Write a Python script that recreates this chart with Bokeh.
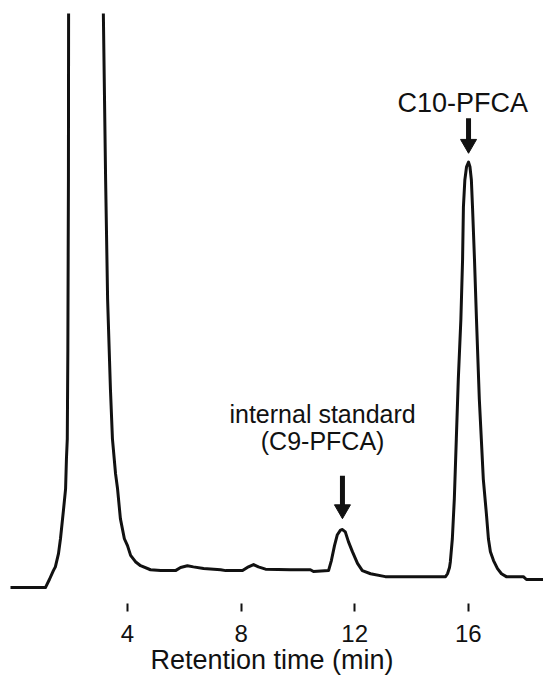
from bokeh.plotting import figure
from bokeh.models import Range1d, FixedTicker, LinearAxis
from bokeh.core.properties import value
from bokeh.embed import file_html
from bokeh.resources import INLINE

# ---- data (time in min, detector signal in arbitrary units) ----
time_min = [-0.12, 1.11, 1.25, 1.39, 1.46, 1.57, 1.64, 1.75, 1.82, 1.85, 1.88, 1.90, 1.92, 1.93,
            2.55,
            3.15, 3.15, 3.23, 3.30, 3.40, 3.47, 3.58, 3.65, 3.75, 3.89, 4.00, 4.11, 4.28, 4.46, 4.81,
            5.17, 5.69, 5.87, 6.11, 6.32, 6.68, 7.28, 7.46, 8.05, 8.22, 8.44, 8.61, 8.86, 9.74,
            10.44, 10.55, 11.08, 11.18, 11.29, 11.39, 11.50, 11.57, 11.67, 11.78, 11.92, 12.10,
            12.27, 12.56, 13.08, 15.20, 15.27, 15.34, 15.37, 15.44, 15.51, 15.58, 15.65, 15.74,
            15.80, 15.83, 15.88, 15.94, 16.01, 16.06, 16.11, 16.15, 16.22, 16.29, 16.39, 16.46,
            16.53, 16.64, 16.71, 16.78, 16.89, 17.03, 17.17, 17.34, 17.94, 18.05, 18.65]
signal = [0.0, 0.0, 1.4, 2.95, 3.6, 5.9, 8.5, 13.7, 17.2, 22.4, 25.9, 41.5, 71.0, 120.0,
          600.0,
          120.0, 100.0, 71.0, 50.2, 34.5, 25.9, 19.8, 17.2, 12.0, 8.5, 7.3, 5.6, 4.5, 3.8, 3.1,
          2.95, 2.95, 3.5, 3.8, 3.6, 3.3, 3.1, 2.95, 2.95, 3.5, 4.0, 3.6, 3.2, 3.1,
          3.1, 2.8, 2.95, 4.7, 7.3, 9.2, 10.0, 10.1, 9.7, 8.0, 6.25, 4.2,
          2.95, 2.4, 1.9, 1.9, 2.4, 3.5, 4.5, 8.5, 15.5, 25.9, 36.3, 46.7,
          57.1, 66.3, 71.0, 73.3, 74.1, 73.3, 71.0, 66.3, 57.1, 46.7, 32.8, 25.9,
          18.9, 12.8, 8.5, 6.25, 4.7, 3.3, 2.4, 1.9, 1.9, 1.4, 1.4]

peak_times = [11.57, 16.01]
peak_heights = [10.1, 74.1]
peak_labels = [["internal standard", "(C9-PFCA)"], ["C10-PFCA"]]

tick_values = [4, 8, 12, 16]
x_label = "Retention time (min)"

FONT = "Liberation Sans"
INK = "#111111"

p = figure(width=543, height=677, output_backend="svg", toolbar_location=None,
           x_range=Range1d(-0.472, 18.65), y_range=Range1d(-2.78, 100.0),
           min_border_left=0, min_border_right=0, min_border_top=13, min_border_bottom=72,
           x_axis_type=None, y_axis_type=None)
p.outline_line_color = None
p.xgrid.visible = False
p.ygrid.visible = False
p.background_fill_color = "white"

p.line(time_min, signal, line_color=INK, line_width=3, line_join="round")

ax = LinearAxis(ticker=FixedTicker(ticks=tick_values))
ax.axis_line_color = None
ax.major_tick_in = 0
ax.major_tick_out = 8
ax.major_tick_line_width = 2
ax.major_tick_line_color = INK
ax.minor_tick_line_color = None
ax.major_label_text_font = FONT
ax.major_label_text_font_size = "24px"
ax.major_label_text_color = INK
ax.major_label_standoff = 13
ax.axis_label = x_label
ax.axis_label_text_font = FONT
ax.axis_label_text_font_size = "27px"
ax.axis_label_text_font_style = "normal"
ax.axis_label_text_color = INK
ax.axis_label_standoff = 0
p.add_layout(ax, "below")

# arrows above the labelled peaks
px_per_unit = 5.76
gap = [11 / px_per_unit, 9 / px_per_unit]
shaft = [43 / px_per_unit, 35 / px_per_unit]
head_h = 13.86 / px_per_unit
tips = [h + g for h, g in zip(peak_heights, gap)]
tops = [t + s for t, s in zip(tips, shaft)]
p.segment(x0=peak_times, y0=[t + head_h * 0.9 for t in tips], x1=peak_times, y1=tops,
          line_color=INK, line_width=5)
p.scatter(x=peak_times, y=[t + 9.2 / px_per_unit for t in tips], marker="inverted_triangle",
          size=16, fill_color=INK, line_color=INK)

# labels
p.text(x=[peak_times[1] - 0.2], y=[tops[1] + 15.5 / px_per_unit], text=[peak_labels[1][0]],
       text_font=value(FONT), text_font_size="27px", text_align="center",
       text_baseline="alphabetic", text_color=INK)
p.text(x=[peak_times[0] - 0.7] * 2,
       y=[tops[0] + 61.5 / px_per_unit, tops[0] + 34.5 / px_per_unit],
       text=peak_labels[0],
       text_font=value(FONT), text_font_size="25px", text_align="center",
       text_baseline="alphabetic", text_color=INK)

open("out.html", "w").write(file_html(p, INLINE))
